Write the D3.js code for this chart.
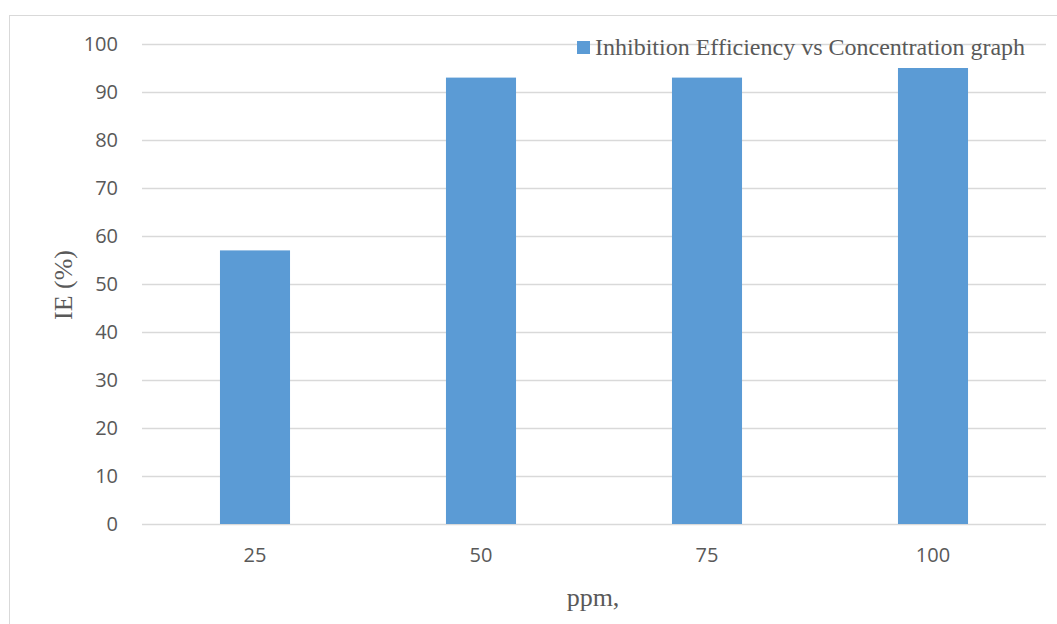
<!DOCTYPE html>
<html>
<head>
<meta charset="utf-8">
<script src="https://cdn.jsdelivr.net/npm/d3@7"></script>
<style>
  html, body { margin: 0; padding: 0; background: #fff; }
  svg { display: block; }
</style>
</head>
<body>
<svg id="chart" width="1057" height="624"></svg>
<script>
// Concentration (ppm) and inhibition efficiency (%)
const categories = ["25", "50", "75", "100"];
const ieValues = [57, 93, 93, 95];
const yTicks = [0, 10, 20, 30, 40, 50, 60, 70, 80, 90, 100];
const seriesName = "Inhibition Efficiency vs Concentration graph";

const W = 1057, H = 624;
const plot = { left: 142, right: 1046, top: 44, bottom: 524 };

const svg = d3.select("#chart");

// chart frame
svg.append("rect")
  .attr("x", 9.5).attr("y", 15.5)
  .attr("width", W + 20).attr("height", H + 20)
  .attr("fill", "#fff")
  .attr("stroke", "#d9d9d9").attr("stroke-width", 1);

const x = d3.scaleBand()
  .domain(categories)
  .range([plot.left, plot.right])
  .paddingInner(0.69)
  .paddingOuter(0.345);

const y = d3.scaleLinear()
  .domain([0, 100])
  .range([plot.bottom, plot.top]);

// horizontal gridlines
svg.append("g")
  .selectAll("line")
  .data(yTicks)
  .join("line")
  .attr("x1", plot.left).attr("x2", plot.right)
  .attr("y1", d => Math.round(y(d)) + 0.5)
  .attr("y2", d => Math.round(y(d)) + 0.5)
  .attr("stroke", "#d9d9d9").attr("stroke-width", 1.5);

// bars
svg.append("g")
  .selectAll("rect")
  .data(categories.map((c, i) => ({ c, v: ieValues[i] })))
  .join("rect")
  .attr("x", d => x(d.c))
  .attr("width", x.bandwidth())
  .attr("y", d => y(d.v))
  .attr("height", d => y(0) - y(d.v))
  .attr("fill", "#5b9bd5");

// y axis labels
const yAxis = d3.axisLeft(y).tickValues(yTicks).tickSize(0).tickPadding(24);
const gy = svg.append("g")
  .attr("transform", `translate(${plot.left},0)`)
  .call(yAxis);
gy.select(".domain").remove();
gy.selectAll("text")
  .attr("font-family", "'Open Sans', sans-serif")
  .attr("font-size", 20)
  .attr("fill", "#595959");

// x axis labels
const xAxis = d3.axisBottom(x).tickSize(0).tickPadding(24);
const gx = svg.append("g")
  .attr("transform", `translate(0,${plot.bottom})`)
  .call(xAxis);
gx.select(".domain").remove();
gx.selectAll("text")
  .attr("font-family", "'Open Sans', sans-serif")
  .attr("font-size", 20)
  .attr("fill", "#595959");

// axis titles
svg.append("text")
  .attr("transform", "translate(72,285) rotate(-90)")
  .attr("text-anchor", "middle")
  .attr("font-family", "'Liberation Serif', 'Times New Roman', serif")
  .attr("font-size", 26)
  .attr("fill", "#595959")
  .text("IE (%)");

svg.append("text")
  .attr("x", 593).attr("y", 606)
  .attr("text-anchor", "middle")
  .attr("font-family", "'Liberation Serif', 'Times New Roman', serif")
  .attr("font-size", 26)
  .attr("fill", "#595959")
  .text("ppm,");

// legend
const lg = svg.append("g").attr("transform", "translate(577,41)");
lg.append("rect")
  .attr("width", 13).attr("height", 13)
  .attr("fill", "#5b9bd5");
lg.append("text")
  .attr("x", 18).attr("y", 14)
  .attr("font-family", "'Liberation Serif', 'Times New Roman', serif")
  .attr("font-size", 24)
  .attr("fill", "#595959")
  .text(seriesName);
</script>
</body>
</html>
